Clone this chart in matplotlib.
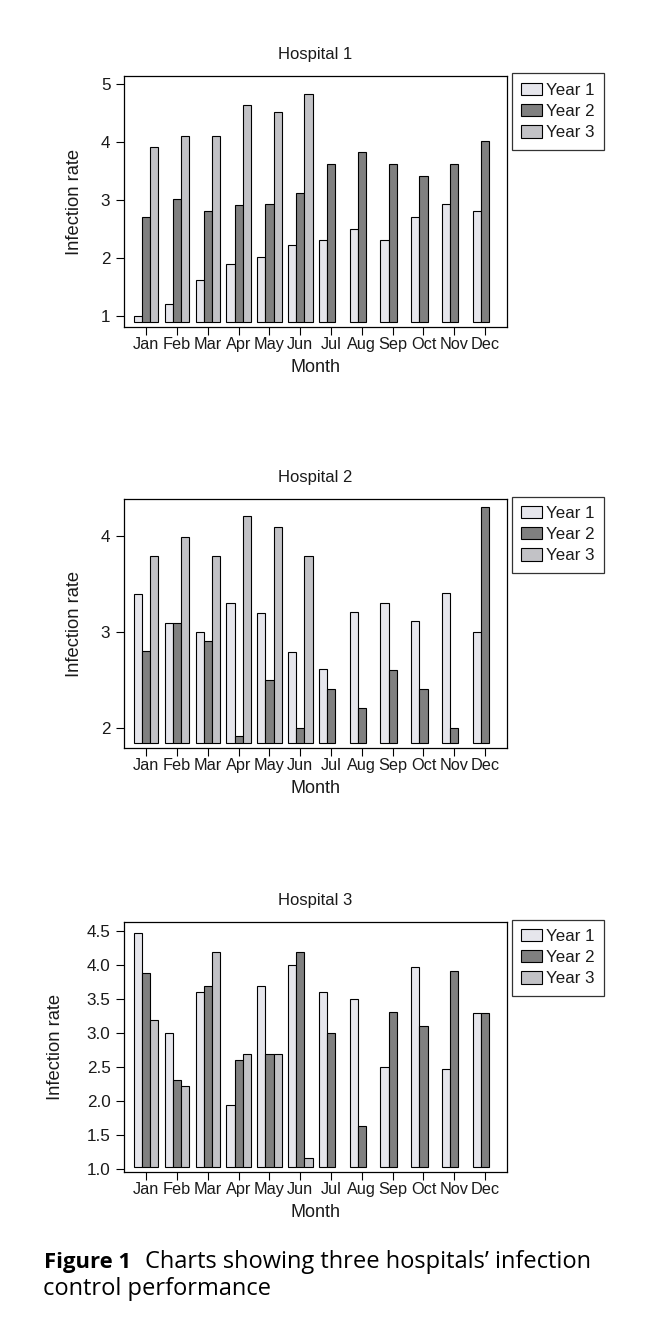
import numpy as np
import matplotlib
matplotlib.use('Agg')
import matplotlib.pyplot as plt

# =============================================================================
# DATA
# =============================================================================

months = ['Jan', 'Feb', 'Mar', 'Apr', 'May', 'Jun',
          'Jul', 'Aug', 'Sep', 'Oct', 'Nov', 'Dec']
series_names = ['Year 1', 'Year 2', 'Year 3']
nan = np.nan

h1_year1 = [1.0, 1.21, 1.62, 1.89, 2.01, 2.22, 2.31, 2.50, 2.31, 2.70, 2.93, 2.81]
h1_year2 = [2.70, 3.01, 2.81, 2.91, 2.93, 3.12, 3.62, 3.83, 3.62, 3.41, 3.62, 4.02]
h1_year3 = [3.91, 4.10, 4.10, 4.64, 4.52, 4.83, nan, nan, nan, nan, nan, nan]

h2_year1 = [3.40, 3.09, 3.00, 3.30, 3.20, 2.79, 2.61, 3.21, 3.30, 3.11, 3.41, 3.00]
h2_year2 = [2.80, 3.09, 2.90, 1.91, 2.50, 2.00, 2.41, 2.21, 2.60, 2.41, 2.00, 4.30]
h2_year3 = [3.79, 3.99, 3.79, 4.21, 4.09, 3.79, nan, nan, nan, nan, nan, nan]

h3_year1 = [4.47, 2.99, 3.60, 1.93, 3.69, 3.99, 3.60, 3.50, 2.50, 3.97, 2.47, 3.29]
h3_year2 = [3.88, 2.31, 3.69, 2.60, 2.68, 4.18, 2.99, 1.63, 3.31, 3.10, 3.90, 3.29]
h3_year3 = [3.19, 2.21, 4.18, 2.69, 2.68, 1.16, nan, nan, nan, nan, nan, nan]

h1_ticks = [1, 2, 3, 4, 5]
h2_ticks = [2, 3, 4]
h3_ticks = [1.0, 1.5, 2.0, 2.5, 3.0, 3.5, 4.0, 4.5]

# =============================================================================
# STYLE
# =============================================================================

plt.rcParams['font.family'] = ['Liberation Sans', 'DejaVu Sans']
TEXT = '#1a1a1a'
colors = ['#e6e6ec', '#808080', '#c2c2c6']
CAPTION_FONT = ['Open Sans', 'DejaVu Sans']

W, H = 669, 1322
fig = plt.figure(figsize=(W / 100, H / 100), dpi=100)


def px_axes(left, top, right, bottom):
    return fig.add_axes([left / W, 1 - bottom / H, (right - left) / W, (bottom - top) / H])


def draw_panel(ax, title, data, ticks, ylim, base, fmt):
    x = np.arange(len(months))
    bw = 0.266
    for j, (vals, col) in enumerate(zip(data, colors)):
        vals = np.asarray(vals, dtype=float)
        ax.bar(x + (j - 1) * bw, vals - base, width=bw, bottom=base,
               color=col, edgecolor='black', linewidth=0.8, label=series_names[j])
    ax.set_xlim(-0.72, 11.71)
    ax.set_ylim(*ylim)
    ax.set_xticks(x)
    ax.set_xticklabels(months, fontsize=11.7, color=TEXT)
    ax.set_yticks(ticks)
    ax.set_yticklabels([fmt.format(t) for t in ticks], fontsize=12.3, color=TEXT)
    ax.tick_params(direction='out', length=5.8, width=0.8, color='black')
    ax.tick_params(axis='x', pad=1.5)
    ax.tick_params(axis='y', pad=4)
    for s in ax.spines.values():
        s.set_linewidth(0.9)
        s.set_color('black')
    ax.set_title(title, fontsize=12, color=TEXT, pad=12)
    ax.set_xlabel('Month', fontsize=13, color=TEXT, labelpad=5)
    ax.set_ylabel('Infection rate', fontsize=13.2, color=TEXT)
    leg = ax.legend(loc='upper left', bbox_to_anchor=(1.013, 1.01), fontsize=12.2,
                    frameon=True, fancybox=False, borderaxespad=0,
                    handlelength=1.2, handleheight=0.75, handletextpad=0.25,
                    labelspacing=0.36, borderpad=0.55)
    leg.get_frame().set_edgecolor('black')
    leg.get_frame().set_linewidth(0.9)
    for t in leg.get_texts():
        t.set_color(TEXT)


ax1 = px_axes(124, 76, 507, 327)
draw_panel(ax1, 'Hospital 1', [h1_year1, h1_year2, h1_year3], h1_ticks,
           (0.81, 5.14), 0.90, '{:g}')
ax1.yaxis.set_label_coords(-0.107, 0.5)

ax2 = px_axes(124, 499, 507, 748)
draw_panel(ax2, 'Hospital 2', [h2_year1, h2_year2, h2_year3], h2_ticks,
           (1.79, 4.385), 1.844, '{:g}')
ax2.yaxis.set_label_coords(-0.107, 0.5)

ax3 = px_axes(124, 922, 507, 1172)
draw_panel(ax3, 'Hospital 3', [h3_year1, h3_year2, h3_year3], h3_ticks,
           (0.951, 4.627), 1.025, '{:.1f}')
ax3.yaxis.set_label_coords(-0.156, 0.5)

# caption
fig.text(44 / W, 1 - 1268 / H, 'Figure 1', fontsize=15.8, fontweight='bold',
         family=CAPTION_FONT, color='black', va='baseline')
fig.text(145 / W, 1 - 1268 / H, 'Charts showing three hospitals\u2019 infection',
         fontsize=17, family=CAPTION_FONT, color='black', va='baseline')
fig.text(43 / W, 1 - 1295 / H, 'control performance',
         fontsize=17, family=CAPTION_FONT, color='black', va='baseline')

fig.savefig('out.png', dpi=100)
